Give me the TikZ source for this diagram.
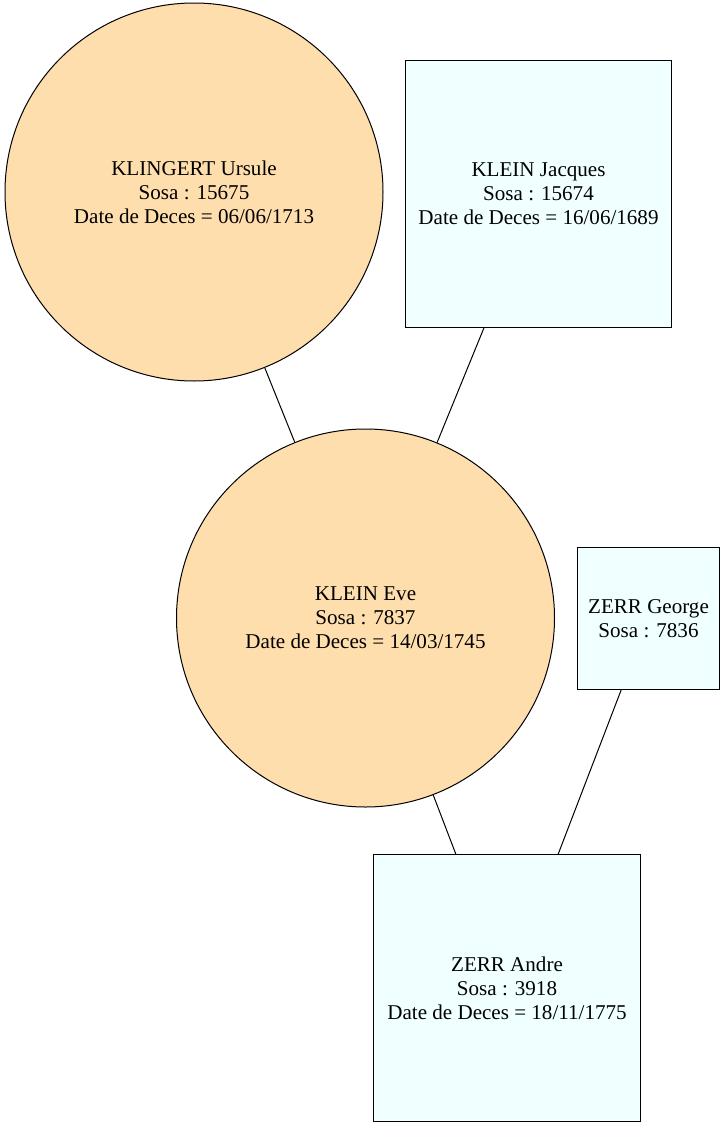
\documentclass[tikz,border=0pt]{standalone}
\usepackage{fontspec}
\setmainfont{Liberation Serif}
\usepackage{tikz}
\usepackage{color}

\definecolor{femme}{HTML}{FFDEAD}
\definecolor{homme}{HTML}{F0FFFF}

\begin{document}
\begin{tikzpicture}[x=0.75pt,y=-0.75pt,line width=0.75pt,
  femmenode/.style={circle,draw,fill=femme,inner sep=0pt,minimum size=283.5pt,align=center,font=\fontsize{15.8}{18}\selectfont},
  hommenode/.style={rectangle,draw,fill=homme,inner sep=0pt,minimum size=200pt,align=center,font=\fontsize{15.8}{18}\selectfont}]
\useasboundingbox (0,0) rectangle (725,1128);

% Ancetres
\node[femmenode] (ursule) at (194,192) {KLINGERT Ursule\\Sosa : 15675\\Date de Deces = 06/06/1713};
\node[hommenode] (jacques) at (538.5,194) {KLEIN Jacques\\Sosa : 15674\\Date de Deces = 16/06/1689};

% Parents
\node[femmenode] (eve) at (365.5,618) {KLEIN Eve\\Sosa : 7837\\Date de Deces = 14/03/1745};
\node[hommenode,minimum size=106pt] (george) at (648.5,618.5) {ZERR George\\Sosa : 7836};

% Enfant
\node[hommenode] (andre) at (507,988) {ZERR Andre\\Sosa : 3918\\Date de Deces = 18/11/1775};

% Liens
\draw (ursule) -- (eve);
\draw (jacques) -- (eve);
\draw (eve) -- (andre);
\draw (george) -- (andre);

\end{tikzpicture}
\end{document}
